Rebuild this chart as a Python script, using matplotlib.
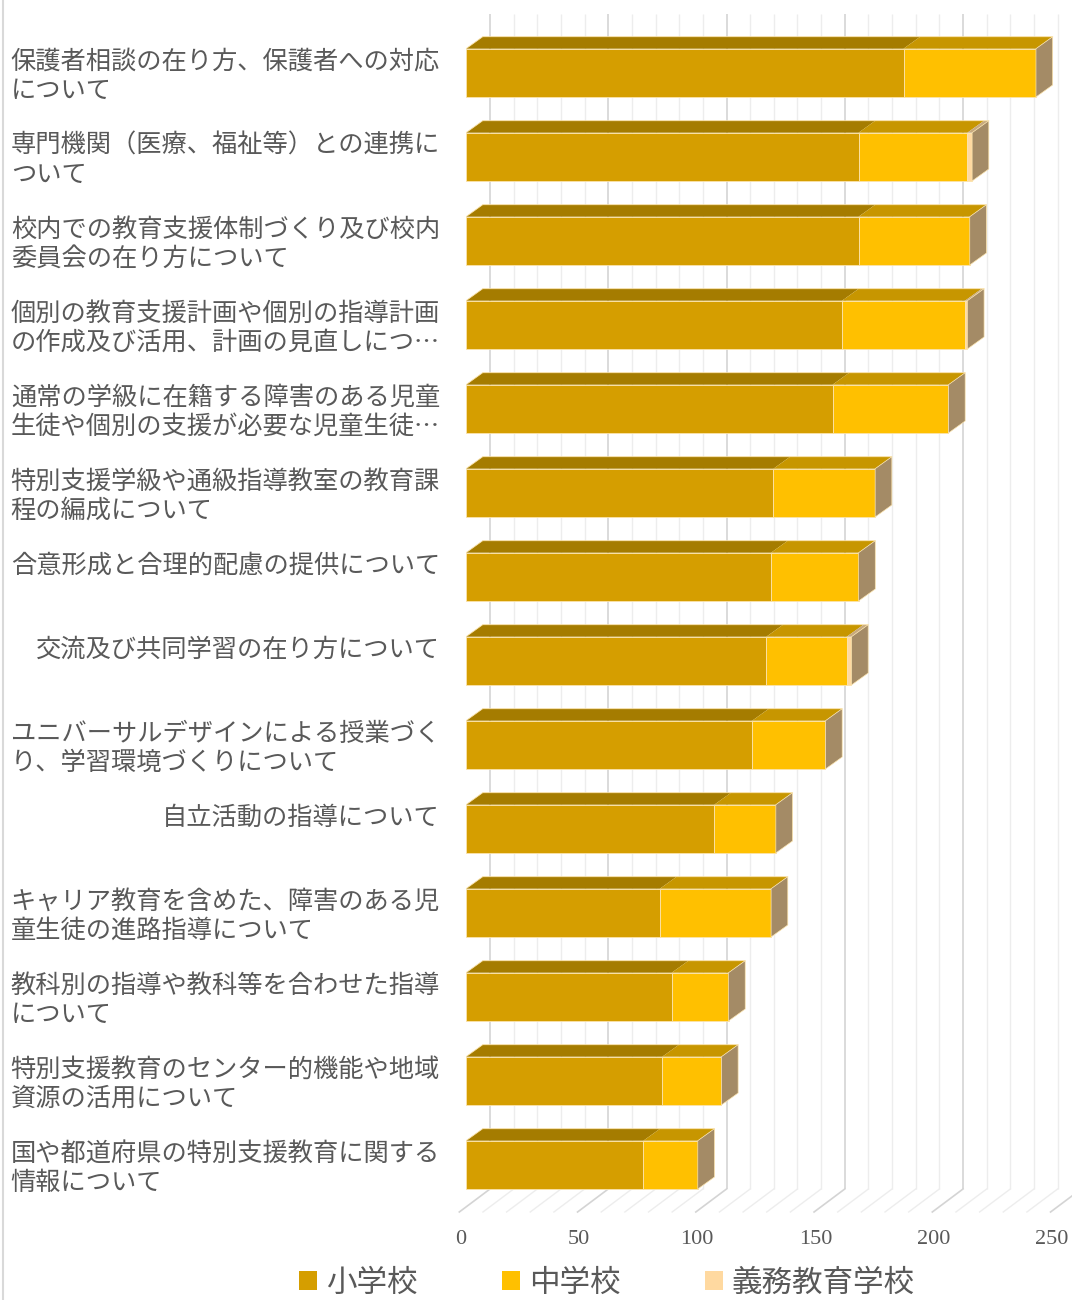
import matplotlib
matplotlib.use("Agg")
import matplotlib.pyplot as plt
from matplotlib.patches import Polygon, Patch
from matplotlib.lines import Line2D

# ── data ────────────────────────────────────────────────────────────────────
categories = [
    "保護者相談の在り方、保護者への対応\nについて",
    "専門機関（医療、福祉等）との連携に\nついて",
    "校内での教育支援体制づくり及び校内\n委員会の在り方について",
    "個別の教育支援計画や個別の指導計画\nの作成及び活用、計画の見直しにつ…",
    "通常の学級に在籍する障害のある児童\n生徒や個別の支援が必要な児童生徒…",
    "特別支援学級や通級指導教室の教育課\n程の編成について",
    "合意形成と合理的配慮の提供について",
    "交流及び共同学習の在り方について",
    "ユニバーサルデザインによる授業づく\nり、学習環境づくりについて",
    "自立活動の指導について",
    "キャリア教育を含めた、障害のある児\n童生徒の進路指導について",
    "教科別の指導や教科等を合わせた指導\nについて",
    "特別支援教育のセンター的機能や地域\n資源の活用について",
    "国や都道府県の特別支援教育に関する\n情報について",
]
elementary = [185, 166, 166, 159, 155, 130, 129, 127, 121, 105, 82, 87, 83, 75]
junior = [56, 46, 47, 52, 49, 43, 37, 34, 31, 26, 47, 24, 25, 23]
compulsory = [0, 2, 0, 1, 0, 0, 0, 2, 0, 0, 0, 0, 0, 0]
series_names = ["小学校", "中学校", "義務教育学校"]
x_ticks = [0, 50, 100, 150, 200, 250]

# ── styles ──────────────────────────────────────────────────────────────────
front_cols = ["#D59E00", "#FFC000", "#FFD9A0"]
top_cols = ["#A57C00", "#C79600", "#C7A97D"]
side_col = "#A48B66"
edge_col = "#FBE3AC"
text_col = "#595959"
JP = ["Noto Sans CJK JP", "DejaVu Sans"]

# ── canvas (pixel geometry) ─────────────────────────────────────────────────
W, H, DPI = 1072, 1300, 100
fig = plt.figure(figsize=(W / DPI, H / DPI), dpi=DPI)
fig.patch.set_facecolor("white")

X0, X1 = 466, 1057.25          # front face of value 0 / 250
XMAX = 250
ppu = (X1 - X0) / XMAX          # pixels per value unit
PITCH, BAR_H, TOP0 = 84, 48.3, 48.7
DX, DY = 16.7, 12               # bar depth
WALL_DX = 24                    # back wall offset from bar front
FLOOR_FRONT, FLOOR_BACK = 1212, 1189
FLOOR_DX = -6.7
WALL_TOP = 14

ax = fig.add_axes([X0 / W, 0, (X1 - X0) / W, 1])
ax.set_xlim(0, XMAX)
ax.set_ylim(H, 0)               # y in pixels from top
ax.axis("off")

# ── back wall + floor grid ──────────────────────────────────────────────────
for v in range(0, XMAX + 1, 10):
    major = v % 50 == 0
    c = "#D4D4D4" if major else "#EDEDED"
    lw = 1.2 if major else 1.0
    xb = v + WALL_DX / ppu
    if v < XMAX:
        ax.plot([xb, xb], [FLOOR_BACK, WALL_TOP], color=c, lw=lw,
                zorder=1, clip_on=False, solid_capstyle="butt")
    ax.plot([v + FLOOR_DX / ppu, xb], [FLOOR_FRONT, FLOOR_BACK], color=c,
            lw=lw, zorder=1, clip_on=False)

# ── 3D stacked bars ─────────────────────────────────────────────────────────
dxu = DX / ppu
centers = [TOP0 + BAR_H / 2 + PITCH * i for i in range(len(categories))]
series = [elementary, junior, compulsory]

left = [0] * len(categories)
for s, vals in enumerate(series):
    ax.barh(centers, vals, left=left, height=BAR_H, color=front_cols[s],
            edgecolor=edge_col, linewidth=0.6, zorder=3)
    for i, v in enumerate(vals):
        if v <= 0:
            continue
        top = centers[i] - BAR_H / 2
        l, r = left[i], left[i] + v
        ax.add_patch(Polygon([(l, top), (r, top), (r + dxu, top - DY),
                              (l + dxu, top - DY)], closed=True,
                             facecolor=top_cols[s], edgecolor="none",
                             zorder=3))
    left = [a + b for a, b in zip(left, vals)]

for i, tot in enumerate(left):
    top = centers[i] - BAR_H / 2
    bot = centers[i] + BAR_H / 2
    ax.add_patch(Polygon([(tot, top), (tot + dxu, top - DY),
                          (tot + dxu, bot - DY), (tot, bot)], closed=True,
                         facecolor=side_col, edgecolor=edge_col,
                         linewidth=0.5, zorder=3))
    ax.plot([0, dxu, tot + dxu], [top, top - DY, top - DY], color=edge_col,
            lw=0.6, zorder=4)

# ── category labels ─────────────────────────────────────────────────────────
for i, lab in enumerate(categories):
    ax.text((440 - X0) / ppu, centers[i] - BAR_H / 2, lab,
            ha="right", va="top", multialignment="left", color=text_col,
            fontsize=18.2, family=JP, linespacing=1.17, clip_on=False)

# ── value axis labels ───────────────────────────────────────────────────────
for v in x_ticks:
    ax.text(v - 5.3 / ppu, 1239, str(v), ha="center", va="center",
            color=text_col, fontsize=16, family="Liberation Serif",
            clip_on=False)

# ── legend ──────────────────────────────────────────────────────────────────
handles = [Patch(facecolor=c, edgecolor="none") for c in front_cols]
fig.legend(handles, series_names, loc="center left",
           bbox_to_anchor=(299 / W, 1 - 1283 / H), ncol=3, frameon=False,
           borderpad=0, borderaxespad=0, handlelength=0.58,
           handleheight=0.58, handletextpad=0.3, columnspacing=2.77,
           labelcolor=text_col, prop={"family": JP, "size": 22})

# chart frame (left edge)
fig.add_artist(Line2D([3 / W, 3 / W], [0, 1], transform=fig.transFigure,
                      color="#D9D9D9", lw=1.5))

fig.savefig("out.png", dpi=DPI, facecolor="white")
